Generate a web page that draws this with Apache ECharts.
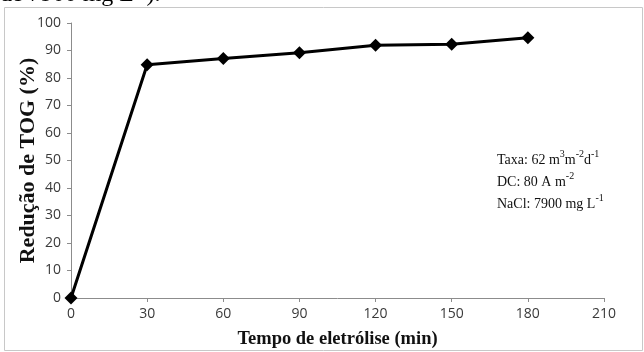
<!DOCTYPE html>
<html>
<head>
<meta charset="utf-8">
<script src="https://cdn.jsdelivr.net/npm/echarts@6/dist/echarts.min.js"></script>
<style>
  html, body { margin: 0; padding: 0; background: #fff; }
  #chart { width: 644px; height: 352px; }
</style>
</head>
<body>
<div id="chart"></div>
<script>
// Electrolysis time (min) and TOG removal (%)
const tempoMin = [0, 30, 60, 90, 120, 150, 180];
const reducaoTOG = [0, 84.8, 87.1, 89.2, 91.9, 92.3, 94.6];
const xTicks = [0, 30, 60, 90, 120, 150, 180, 210];
const yTicks = [0, 10, 20, 30, 40, 50, 60, 70, 80, 90, 100];

const chart = echarts.init(document.getElementById('chart'));
const serif = '"Liberation Serif", "DejaVu Serif", serif';
const sans = '"Open Sans", "DejaVu Sans", sans-serif';

chart.setOption({
  animation: false,
  grid: { left: 71, right: 40, top: 23, bottom: 54, containLabel: false, outerBoundsMode: 'none' },
  xAxis: {
    type: 'value',
    min: xTicks[0],
    max: xTicks[xTicks.length - 1],
    interval: 30,
    axisLine: { lineStyle: { color: '#8c8c8c', width: 1 } },
    axisTick: { show: true, length: 4, lineStyle: { color: '#8c8c8c' } },
    axisLabel: { color: '#3a3a3a', fontFamily: sans, fontSize: 14, margin: 9 },
    splitLine: { show: false },
    name: 'Tempo de eletrólise (min)',
    nameLocation: 'middle',
    nameGap: 32,
    nameMoveOverlap: false,
    nameTextStyle: { fontFamily: serif, fontWeight: 'bold', fontSize: 18.5, color: '#111' }
  },
  yAxis: {
    type: 'value',
    min: yTicks[0],
    max: yTicks[yTicks.length - 1],
    interval: 10,
    axisLine: { show: true, lineStyle: { color: '#8c8c8c', width: 1 } },
    axisTick: { show: true, length: 4, lineStyle: { color: '#8c8c8c' } },
    axisLabel: { color: '#3a3a3a', fontFamily: sans, fontSize: 14, margin: 10 },
    splitLine: { show: false },
    name: 'Redução de TOG (%)',
    nameLocation: 'middle',
    nameGap: 32,
    nameMoveOverlap: false,
    nameTextStyle: { fontFamily: serif, fontWeight: 'bold', fontSize: 22, color: '#111' }
  },
  series: [{
    type: 'line',
    data: tempoMin.map((t, i) => [t, reducaoTOG[i]]),
    symbol: 'diamond',
    symbolSize: 13,
    lineStyle: { color: '#000', width: 3 },
    itemStyle: { color: '#000' }
  }],
  graphic: [
    {
      type: 'rect',
      shape: { x: 4.5, y: 7.5, width: 638, height: 343 },
      style: { fill: null, stroke: '#c8c8c8', lineWidth: 1 },
      z: -1
    },
    {
      type: 'text',
      left: 0,
      top: -17,
      style: {
        text: 'de 7900 mg L{s|-1}).',
        font: '24px ' + serif,
        fill: '#000',
        rich: { s: { fontSize: 15, fontFamily: serif, verticalAlign: 'top' } }
      }
    },
    {
      type: 'text',
      left: 497,
      top: 149,
      style: {
        text: [
          'Taxa: 62 m{s|3}m{s|-2}d{s|-1}',
          'DC: 80 A m{s|-2}',
          'NaCl: 7900 mg L{s|-1}'
        ].join('\n'),
        font: '14px ' + serif,
        lineHeight: 22,
        fill: '#111',
        rich: { s: { fontSize: 10, fontFamily: serif, fill: '#111', verticalAlign: 'top', lineHeight: 22 } }
      }
    }
  ]
});
</script>
</body>
</html>
